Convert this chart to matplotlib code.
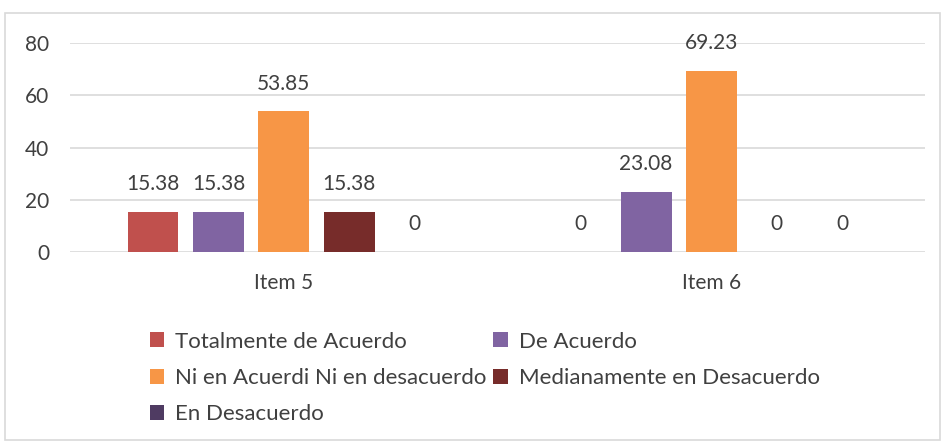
import numpy as np
import matplotlib.pyplot as plt
from matplotlib.patches import Rectangle

items = ["Item 5", "Item 6"]
series = ["Totalmente de Acuerdo", "De Acuerdo", "Ni en Acuerdi Ni en desacuerdo",
          "Medianamente en Desacuerdo", "En Desacuerdo"]
values = [
    [15.38, 0],
    [15.38, 23.08],
    [53.85, 69.23],
    [15.38, 0],
    [0, 0],
]
colors = ["#C0504D", "#8064A2", "#F79646", "#772C2A", "#4F3B62"]
yticks = [0, 20, 40, 60, 80]

plt.rcParams['font.family'] = ['Lato', 'DejaVu Sans']

fig = plt.figure(figsize=(9.42, 4.44), dpi=100)
ax = fig.add_axes([0.0743, 0.432, 0.908, 0.471])

x = np.arange(len(items))
step = 0.153
width = 0.119
handles = []
for i, (name, vals) in enumerate(zip(series, values)):
    pos = x + (i - 2) * step
    b = ax.bar(pos, vals, width, color=colors[i], label=name, zorder=3)
    handles.append(b)
    for p, v in zip(pos, vals):
        ax.annotate("{:g}".format(v), (p, v), xytext=(0, 20), textcoords="offset points",
                    ha="center", va="center", fontsize=15, color="#404040")

ax.set_xlim(-0.5, 1.5)
ax.set_ylim(0, 80)
ax.set_yticks(yticks)
ax.set_xticks(x)
ax.set_xticklabels(items)
ax.tick_params(axis="both", length=0, labelsize=15, labelcolor="#404040")
ax.tick_params(axis="x", pad=15)
ax.tick_params(axis="y", pad=15)
ax.grid(axis="y", color="#D9D9D9", linewidth=1.2, zorder=0)
for s in ax.spines.values():
    s.set_visible(False)

order = [0, 2, 4, 1, 3]
fig.legend([handles[k] for k in order], [series[k] for k in order], ncol=2,
           loc="upper left", bbox_to_anchor=(0.159, 0.253), frameon=False,
           fontsize=16, handlelength=0.65, handleheight=0.65, handletextpad=0.5,
           columnspacing=0.3, labelspacing=0.73, borderaxespad=0, borderpad=0,
           labelcolor="#404040")

fig.patches.append(Rectangle((5 / 942, 4 / 444), 935 / 942, 427 / 444,
                             transform=fig.transFigure, fill=False,
                             edgecolor="#D9D9D9", linewidth=1.2))

fig.savefig("out.png", dpi=100)
